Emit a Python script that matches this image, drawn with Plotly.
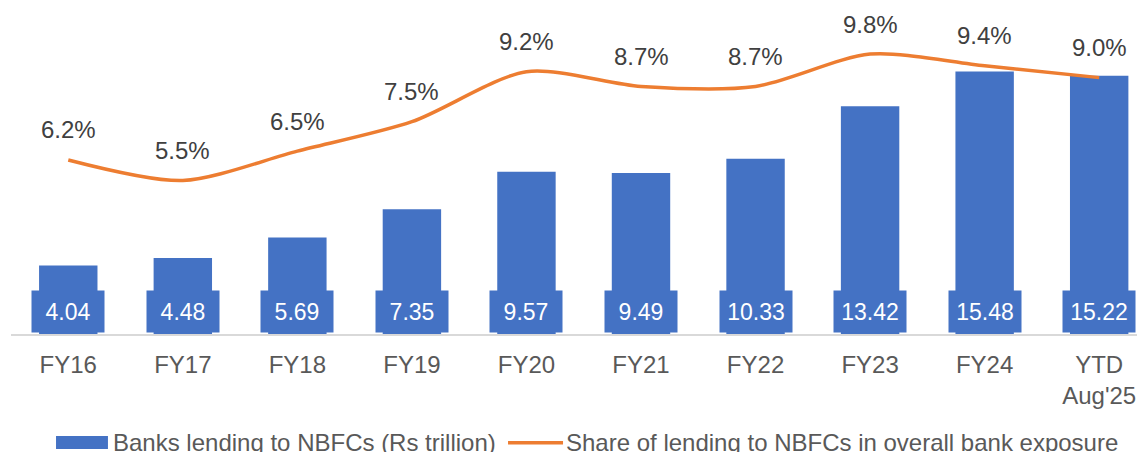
"""Bank lending to NBFCs: bars plus share line."""
import plotly.graph_objects as go

categories = ["FY16", "FY17", "FY18", "FY19", "FY20", "FY21", "FY22", "FY23", "FY24", "YTD<br>Aug'25"]
lending_trn = [4.04, 4.48, 5.69, 7.35, 9.57, 9.49, 10.33, 13.42, 15.48, 15.22]
share_pct = [6.2, 5.5, 6.5, 7.5, 9.2, 8.7, 8.7, 9.8, 9.4, 9.0]
bar_name = "Banks lending to NBFCs (Rs trillion)"
line_name = "Share of lending to NBFCs in overall bank exposure"

BLUE = "#4472C4"
ORANGE = "#ED7D31"
FONT = "Liberation Sans, Arial, sans-serif"

fig = go.Figure()
fig.add_trace(go.Bar(
    x=categories,
    y=lending_trn,
    name=bar_name,
    marker=dict(color=BLUE, line=dict(width=0)),
))
fig.add_trace(go.Scatter(
    x=categories,
    y=share_pct,
    name=line_name,
    mode="lines",
    line=dict(color=ORANGE, width=3.5, shape="spline", smoothing=0.8),
    yaxis="y2",
))

# value boxes at the foot of each bar
for cat, val in zip(categories, lending_trn):
    fig.add_annotation(
        x=cat, y=0, yref="y", yanchor="bottom", yshift=1,
        text=f"{val:.2f}", showarrow=False,
        font=dict(color="white", size=23, family=FONT),
        bgcolor=BLUE, width=72, height=41, borderpad=0,
    )

# percentage labels above the line
for cat, val in zip(categories, share_pct):
    fig.add_annotation(
        x=cat, y=val, yref="y2", yshift=30,
        text=f"{val:.1f}%", showarrow=False,
        font=dict(color="#404040", size=24, family=FONT),
    )

# hand-drawn legend (wide swatches like the original)
leg_y = -0.336
fig.add_shape(type="rect", xref="paper", yref="paper",
              x0=0.0397, x1=0.0855, y0=-0.355, y1=-0.315,
              fillcolor=BLUE, line=dict(width=0))
fig.add_annotation(xref="paper", yref="paper", x=0.0879, y=leg_y,
                   xanchor="left", yanchor="middle", showarrow=False,
                   text=bar_name, font=dict(size=24, color="#595959", family=FONT))
fig.add_shape(type="line", xref="paper", yref="paper",
              x0=0.4383, x1=0.4868, y0=leg_y, y1=leg_y,
              line=dict(color=ORANGE, width=3.5))
fig.add_annotation(xref="paper", yref="paper", x=0.4874, y=leg_y,
                   xanchor="left", yanchor="middle", showarrow=False,
                   text=line_name, font=dict(size=24, color="#595959", family=FONT))

# page body has an 8px margin, so the figure is 8px smaller than the window
fig.update_layout(
    width=1137,
    height=444,
    margin=dict(l=3, r=0, t=2, b=118, autoexpand=False),
    plot_bgcolor="white",
    paper_bgcolor="white",
    font=dict(family=FONT, size=24, color="#595959"),
    bargap=0.49,
    showlegend=False,
    xaxis=dict(
        range=[-0.5, 9.4], showgrid=False, showline=True,
        linecolor="#D9D9D9", linewidth=2, ticks="",
        ticklabelstandoff=8,
        tickfont=dict(size=24, color="#595959"),
    ),
    yaxis=dict(range=[0, 19.1], visible=False, showgrid=False),
    yaxis2=dict(range=[0.28, 11.3], overlaying="y", side="right",
                visible=False, showgrid=False),
)

fig.write_html("out.html")
